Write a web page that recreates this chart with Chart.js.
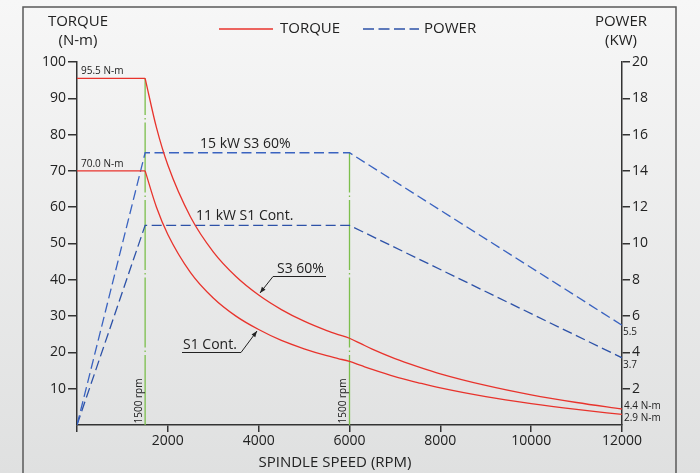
<!DOCTYPE html>
<html>
<head>
<meta charset="utf-8">
<script src="https://cdn.jsdelivr.net/npm/chart.js@4"></script>
<style>
html,body{margin:0;padding:0;background:#ececec;}
#wrap{width:700px;height:473px;position:relative;}
</style>
</head>
<body>
<div id="wrap"><canvas id="c"></canvas></div>
<script>
// ---- data ----
const flatRPM = [0, 1500];
const flatS3 = [95.5, 95.5];
const flatS1 = [70.0, 70.0];
const curveRPM = [1500, 1750, 2000, 2500, 3000, 3500, 4000, 4500, 5000, 5500, 5750, 6000, 6250, 6500, 7000, 7500, 8000, 9000, 10000, 11000, 12000];
const torqueS3 = [95.5, 81.9, 71.6, 57.3, 47.7, 40.9, 35.8, 31.8, 28.6, 26.0, 24.9, 23.9, 22.4, 20.9, 18.3, 16.1, 14.1, 10.9, 8.3, 6.2, 4.4];
const torqueS1 = [70.0, 60.0, 52.5, 42.0, 35.0, 30.0, 26.3, 23.3, 21.0, 19.1, 18.3, 17.5, 16.4, 15.3, 13.3, 11.7, 10.2, 7.8, 5.9, 4.3, 2.9];
const powerRPM = [0, 1500, 6000, 12000];
const powerS3 = [0, 15, 15, 5.5];
const powerS1 = [0, 11, 11, 3.7];
const markRPM = [1500, 6000];
const markTop = [95.5, 15];          // 1500 line up to torque 95.5, 6000 line up to 15 kW
const xTicks = [0, 2000, 4000, 6000, 8000, 10000, 12000];
const torqueTicks = [10, 20, 30, 40, 50, 60, 70, 80, 90, 100];
const powerTicks = [2, 4, 6, 8, 10, 12, 14, 16, 18, 20];

const FONT = "'Open Sans', 'Noto Sans', sans-serif";
const RED = '#e8332c', BLUE = '#3a63c0', BLUE2 = '#2d52a8', GREEN = '#7cbf4c', TXT = '#222';

const pts = (xs, ys) => xs.map((x, i) => ({x: x, y: ys[i]}));

const redBase = {borderColor: RED, borderWidth: 1.3, pointRadius: 0, fill: false, yAxisID: 'yL'};
const datasets = [
  Object.assign({label: 'TORQUE S3 flat', data: pts(flatRPM, flatS3), tension: 0}, redBase),
  Object.assign({label: 'TORQUE S1 flat', data: pts(flatRPM, flatS1), tension: 0}, redBase),
  Object.assign({label: 'TORQUE S3', data: pts(curveRPM, torqueS3), cubicInterpolationMode: 'monotone'}, redBase),
  Object.assign({label: 'TORQUE S1', data: pts(curveRPM, torqueS1), cubicInterpolationMode: 'monotone'}, redBase),
  {label: 'POWER S3', data: pts(powerRPM, powerS3), borderColor: BLUE, borderWidth: 1.3, borderDash: [10, 4.5], pointRadius: 0, tension: 0, yAxisID: 'yR'},
  {label: 'POWER S1', data: pts(powerRPM, powerS1), borderColor: BLUE2, borderWidth: 1.3, borderDash: [10, 4.5], pointRadius: 0, tension: 0, yAxisID: 'yR'},
  {label: 'mark 1500', data: [{x: markRPM[0], y: 0}, {x: markRPM[0], y: markTop[0]}], borderColor: GREEN, borderWidth: 1.3, borderDash: [70, 3, 1.5, 3], pointRadius: 0, yAxisID: 'yL'},
  {label: 'mark 6000', data: [{x: markRPM[1], y: 0}, {x: markRPM[1], y: markTop[1]}], borderColor: GREEN, borderWidth: 1.3, borderDash: [70, 3, 1.5, 3], pointRadius: 0, yAxisID: 'yR'}
];

function arrowLine(ctx, x1, y1, x2, y2) {
  ctx.beginPath(); ctx.moveTo(x1, y1); ctx.lineTo(x2, y2); ctx.stroke();
  const a = Math.atan2(y2 - y1, x2 - x1), L = 6, W = 2.3;
  ctx.beginPath();
  ctx.moveTo(x2, y2);
  ctx.lineTo(x2 - L * Math.cos(a) + W * Math.sin(a), y2 - L * Math.sin(a) - W * Math.cos(a));
  ctx.lineTo(x2 - L * Math.cos(a) - W * Math.sin(a), y2 - L * Math.sin(a) + W * Math.cos(a));
  ctx.closePath(); ctx.fill();
}

const deco = {
  id: 'deco',
  beforeDraw(chart) {
    const ctx = chart.ctx, W = chart.width, H = chart.height;
    ctx.save();
    const g = ctx.createLinearGradient(0, 0, 0, H);
    g.addColorStop(0, '#f7f7f7'); g.addColorStop(1, '#dfe0e0');
    ctx.fillStyle = g; ctx.fillRect(0, 0, W, H);
    ctx.strokeStyle = '#5a5a5a'; ctx.lineWidth = 1.5;
    ctx.beginPath();
    ctx.moveTo(23, H); ctx.lineTo(23, 7); ctx.lineTo(676, 7); ctx.lineTo(676, H);
    ctx.stroke();
    ctx.restore();
  },
  afterDraw(chart) {
    const ctx = chart.ctx;
    const x = chart.scales.x, yL = chart.scales.yL, yR = chart.scales.yR;
    ctx.save();
    ctx.fillStyle = TXT; ctx.textBaseline = 'middle';
    // axis titles
    ctx.font = '15px ' + FONT; ctx.textAlign = 'center';
    ctx.fillText('TORQUE', 78, 22); ctx.fillText('(N-m)', 78, 41);
    ctx.fillText('POWER', 621, 22); ctx.fillText('(KW)', 621, 41);
    ctx.fillText('SPINDLE SPEED (RPM)', 335, 463);
    // legend
    ctx.lineWidth = 1.3;
    ctx.strokeStyle = RED; ctx.beginPath(); ctx.moveTo(219, 29); ctx.lineTo(273, 29); ctx.stroke();
    ctx.strokeStyle = BLUE2; ctx.setLineDash([11, 4.5]); ctx.beginPath(); ctx.moveTo(363, 29); ctx.lineTo(419, 29); ctx.stroke();
    ctx.setLineDash([]);
    ctx.textAlign = 'left';
    ctx.fillText('TORQUE', 280, 29); ctx.fillText('POWER', 424, 29);
    // curve annotations
    ctx.font = '14px ' + FONT;
    ctx.fillText('15 kW S3 60%', 200, 144);
    ctx.fillText('11 kW S1 Cont.', 196, 216);
    ctx.fillText('S3 60%', 277, 269);
    ctx.fillText('S1 Cont.', 183, 345);
    ctx.strokeStyle = '#222'; ctx.lineWidth = 1;
    ctx.beginPath(); ctx.moveTo(273, 276.5); ctx.lineTo(326, 276.5); ctx.stroke();
    ctx.beginPath(); ctx.moveTo(182, 352.5); ctx.lineTo(241, 352.5); ctx.stroke();
    arrowLine(ctx, 273, 276.5, 260, 293);
    arrowLine(ctx, 241, 352.5, 257, 331);
    // small value labels
    ctx.font = '10px ' + FONT;
    ctx.fillText('95.5 N-m', 81, yL.getPixelForValue(flatS3[0]) - 7);
    ctx.fillText('70.0 N-m', 81, yL.getPixelForValue(flatS1[0]) - 7);
    ctx.fillText(String(powerS3[3]), 623, yR.getPixelForValue(powerS3[3]) + 7);
    ctx.fillText(String(powerS1[3]), 623, yR.getPixelForValue(powerS1[3]) + 7);
    ctx.fillText(torqueS3[torqueS3.length - 1] + ' N-m', 624, 406);
    ctx.fillText(torqueS1[torqueS1.length - 1] + ' N-m', 624, 418);
    // rotated rpm labels
    markRPM.forEach(r => {
      const px = x.getPixelForValue(r) - 6;
      ctx.save();
      ctx.translate(px, 401);
      ctx.rotate(-Math.PI / 2);
      ctx.textAlign = 'center';
      ctx.fillText('1500 rpm', 0, 0);
      ctx.restore();
    });
    ctx.restore();
  }
};

const hideZero = v => (v === 0 ? '' : v);
const tickCol = c => (c.tick && c.tick.value === 0 ? 'rgba(0,0,0,0)' : '#333');

new Chart(document.getElementById('c'), {
  type: 'line',
  data: {datasets: datasets},
  plugins: [deco],
  options: {
    responsive: true,
    maintainAspectRatio: false,
    animation: false,
    layout: {padding: {top: 62, left: 0, right: 0, bottom: 0}},
    plugins: {legend: {display: false}, tooltip: {enabled: false}},
    scales: {
      x: {
        type: 'linear', min: 0, max: 12000,
        afterBuildTicks: s => { s.ticks = xTicks.map(v => ({value: v})); },
        ticks: {callback: hideZero, color: TXT, font: {size: 14, family: FONT}, padding: 1, maxRotation: 0},
        grid: {drawOnChartArea: false, drawTicks: true, tickLength: 7, color: '#333', lineWidth: 1.5},
        border: {display: true, color: '#333', width: 1.5},
        afterFit: s => { s.height = 48; }
      },
      yL: {
        position: 'left', min: 0, max: 100,
        afterBuildTicks: s => { s.ticks = [0].concat(torqueTicks).map(v => ({value: v})); },
        ticks: {callback: hideZero, color: TXT, font: {size: 14, family: FONT}, padding: 2},
        grid: {drawOnChartArea: false, drawTicks: true, tickLength: 9, color: tickCol, lineWidth: 1.5},
        border: {display: true, color: '#333', width: 1.5},
        afterFit: s => { s.width = 77; }
      },
      yR: {
        position: 'right', min: 0, max: 20,
        afterBuildTicks: s => { s.ticks = [0].concat(powerTicks).map(v => ({value: v})); },
        ticks: {callback: hideZero, color: TXT, font: {size: 14, family: FONT}, padding: 2},
        grid: {drawOnChartArea: false, drawTicks: true, tickLength: 8, color: tickCol, lineWidth: 1.5},
        border: {display: true, color: '#333', width: 1.5},
        afterFit: s => { s.width = 78; }
      }
    }
  }
});
</script>
</body>
</html>
